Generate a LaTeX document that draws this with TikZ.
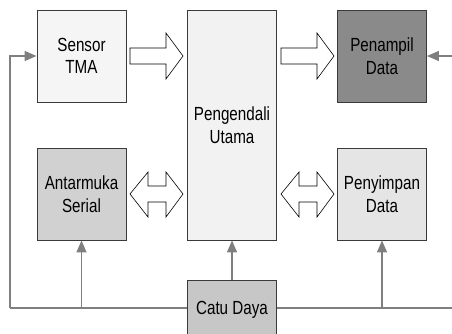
\documentclass[tikz,border=0pt]{standalone}
\usepackage{fontspec}
\setmainfont[FakeStretch=0.8]{Liberation Sans}
\usetikzlibrary{arrows.meta}
\definecolor{bxline}{HTML}{3A3A3A}
\definecolor{wire}{HTML}{7F7F7F}
\tikzset{
  blk/.style={draw=bxline, line width=0.9pt, minimum width=89pt, minimum height=92pt,
    inner sep=0pt, align=center, font=\fontsize{19}{22.5}\selectfont, text=black},
  wireline/.style={draw=wire, line width=1.5pt},
  wirearrow/.style={wireline, -{Triangle[length=12pt,width=10pt]}},
  fatarrow/.style={draw=black, fill=white, line width=0.6pt, line join=miter}
}
\begin{document}
\begin{tikzpicture}[x=1pt,y=1pt]
\useasboundingbox (0,0) rectangle (452,333);
\begin{scope}
\clip (0,0) rectangle (452,333);
% boxes
\node[blk, fill=black!4] (sensor) at (81.5,277) {Sensor\\TMA};
\node[blk, fill=black!5, minimum height=230pt] (peng) at (232,208) {Pengendali\\Utama};
\node[blk, fill=black!46] (tampil) at (382,277) {Penampil\\Data};
\node[blk, fill=black!18] (serial) at (81.5,139) {Antarmuka\\Serial};
\node[blk, fill=black!10] (simpan) at (382,139) {Penyimpan\\Data};
\node[blk, fill=black!22, minimum height=60pt] (catu) at (232,23) {\raisebox{-3pt}{Catu Daya}};
% wires
\coordinate (lc) at (10,25);
\coordinate (rc) at (455,25);
\coordinate (re) at (455,277);
\coordinate (js) at (81.5,25);
\coordinate (jp) at (382,25);
\draw[wireline] (catu.west |- lc) -- (lc);
\draw[wirearrow] (lc) |- (sensor.west);
\draw[wirearrow] (js) -- (serial.south);
\draw[wirearrow] (catu.north) -- (peng.south);
\draw[wireline] (catu.east |- rc) -- (rc);
\draw[wirearrow] (jp) -- (simpan.south);
\draw[wirearrow] (re) -- (tampil.east);
% block arrows
\draw[fatarrow] (130,285) -- (166,285) -- (166,300) -- (183,277) -- (166,254) -- (166,269) -- (130,269) -- cycle;
\draw[fatarrow] (281,285) -- (317,285) -- (317,300) -- (334,277) -- (317,254) -- (317,269) -- (281,269) -- cycle;
% double arrows
\draw[fatarrow] (130,139) -- (148,161) -- (148,147) -- (166,147) -- (166,161) -- (183,139) -- (166,116) -- (166,131) -- (148,131) -- (148,116) -- cycle;
\draw[fatarrow] (281,139) -- (299,161) -- (299,147) -- (317,147) -- (317,161) -- (334,139) -- (317,116) -- (317,131) -- (299,131) -- (299,116) -- cycle;
\end{scope}
\end{tikzpicture}
\end{document}
